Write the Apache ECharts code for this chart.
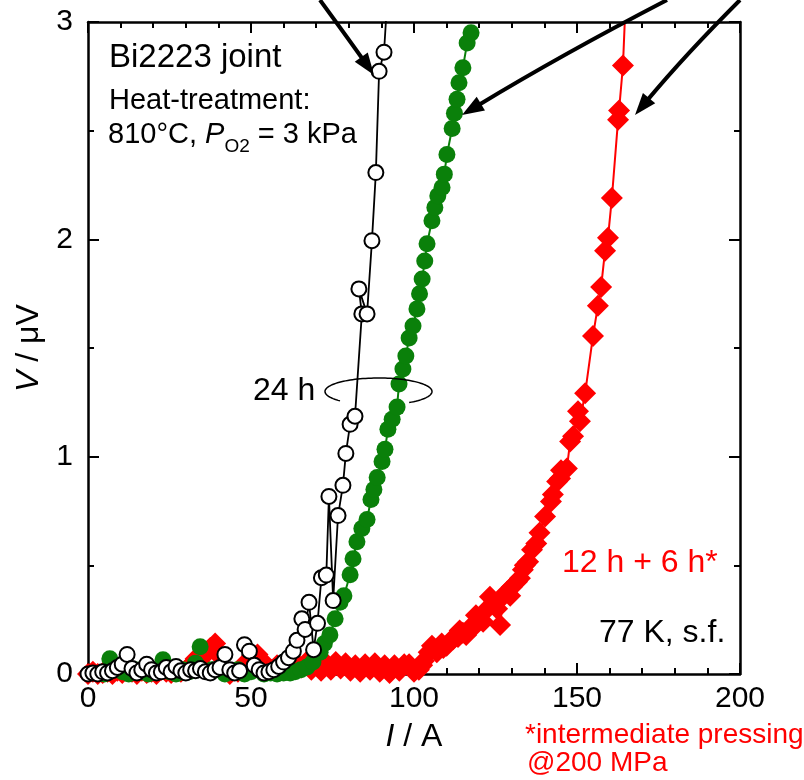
<!DOCTYPE html>
<html>
<head>
<meta charset="utf-8">
<script src="https://cdn.jsdelivr.net/npm/echarts@6/dist/echarts.min.js"></script>
<style>
  html, body { margin: 0; padding: 0; background: #fff; }
  #main { width: 804px; height: 780px; }
</style>
</head>
<body>
<div id="main"></div>
<script>
  // 24 h joint (open circles)
  var blackI = [0, 1.5, 3, 4.5, 6, 7.5, 9, 10.5, 12, 13.5, 15, 16.5, 18, 19.5, 21, 22.5, 24, 25.5, 27, 28.5,
    30, 31.5, 33, 34.5, 36, 37.5, 39, 40.5, 42, 43.5, 45, 46.5, 48, 49.5, 51, 52.5, 54, 55.5, 57, 58.5,
    60, 61.5, 63, 64.1, 65.6, 66.6, 67.8, 69.2, 70.4, 71.6, 73.1, 73.9, 75.2, 76.7, 78.2, 79.1, 80.4, 81.9,
    84.0, 83.1, 85.6, 87.1, 88.3, 89.3, 90.8, 92.2]
  var blackV = [0, 0.005, 0, 0.01, 0.005, 0.015, 0.03, 0.045, 0.09, 0.025, 0.005, 0.02, 0.045, 0.02, 0.005, 0.01, 0.03, 0.01, 0.035, 0.015,
    0.005, 0.02, 0.015, 0.025, 0.01, 0.005, 0.02, 0.03, 0.09, 0.02, 0.005, 0.015, 0.135, 0.105, 0.04, 0.02, 0.005, 0.01, 0.02, 0.035,
    0.055, 0.075, 0.105, 0.155, 0.254, 0.205, 0.33, 0.112, 0.233, 0.443, 0.455, 0.817, 0.338, 0.729, 0.868, 1.015, 1.149, 1.186,
    1.657, 1.772, 1.657, 1.994, 2.307, 2.773, 2.861, 3.2]

  // 24 h joint (filled circles)
  var greenI = [5, 6.7, 8.5, 10.5, 12.5, 14.5, 16.5, 18.5, 20.5, 23, 25, 27, 29, 31, 33, 34.4, 38, 40, 42, 44,
    46, 48, 50, 52, 54, 56, 58, 60, 62, 63.5, 65.3, 67.2, 69, 71.2, 72.5, 74.2, 75.8, 77.3, 78.5, 80.4,
    81.3, 82.5, 84, 85.6, 86.8, 87.7, 88.7, 90.2, 91.1, 92, 93.3, 94.8, 95.4, 96.6, 97.5, 98.5, 99.7, 100.9,
    101.7, 102.5, 103.3, 104, 105.5, 106.4, 107.3, 108.6, 109.3, 110.1, 111.7, 112.4, 113.2, 113.8, 115, 116.3, 117.5]
  var greenV = [0, 0.07, 0.03, 0.01, 0, 0.02, 0.01, 0, 0.02, 0.065, 0.01, 0, 0.02, 0.01, 0.05, 0.125, 0.02, 0.02, 0, 0.01,
    0.02, 0, 0.01, 0.02, 0, 0.005, 0, 0.005, 0.005, 0.01, 0.02, 0.032, 0.055, 0.1, 0.14, 0.18, 0.254, 0.33, 0.36, 0.457,
    0.53, 0.609, 0.669, 0.711, 0.803, 0.849, 0.904, 0.978, 1.034, 1.126, 1.172, 1.228, 1.334, 1.403, 1.463, 1.546, 1.601, 1.68,
    1.75, 1.818, 1.9, 1.98, 2.086, 2.146, 2.2, 2.238, 2.3, 2.39, 2.51, 2.58, 2.644, 2.72, 2.79, 2.903, 2.95]

  // 12 h + 6 h* joint (diamonds)
  var redI = [0, 1.5, 3, 4.5, 6, 7.5, 9, 10.5, 12, 13.5, 15, 16.5, 18, 19.5, 21, 22.5, 24, 25.5, 27, 28.5,
    30, 31.5, 33, 34.5, 36, 37.5, 39, 40.5, 42, 43.5, 44.5, 46, 47.5, 49, 50.5, 52, 53.5, 55, 56.5, 58,
    59.5, 61, 62.5, 64, 65.5, 67, 68.5, 70, 71.5, 73, 74.5, 76, 77.5, 79, 80.5, 82, 83.5, 85, 86.5, 88,
    89.5, 91, 92.5, 94, 95.5, 97, 98.5, 100, 101.5, 102.5, 103, 104.5, 105.5, 106, 107, 108.5, 109, 110, 111, 112, 113.5, 114, 115, 116, 117, 118.5,
    119, 120, 121.2, 122.5, 123.3, 124.5, 125.5, 126.4, 127.5, 128.5, 129.5, 130, 131.6, 132.5, 133.4, 134, 135, 136.2, 137.5, 138.5, 140.2, 142, 142.6,
    143.9, 144.8, 145.1, 146.9, 147.9, 148.8, 150.3, 150.9, 152.5, 154.9, 156.4, 157.4, 158.6, 159.5, 160.7, 162.6, 162.9, 164.1, 165.2]
  var redV = [0, 0.01, 0, 0.005, 0.01, 0, 0.015, 0.005, 0.02, 0.01, 0, 0.015, 0.005, 0.01, 0, 0.02, 0.01, 0.005, 0.015, 0.01,
    0.02, 0.04, 0.07, 0.05, 0.09, 0.12, 0.14, 0.08, 0.02, 0, -0.03, 0.01, 0.04, 0.06, 0.08, 0.09, 0.06, 0.03, 0.02, 0.04,
    0.03, 0.05, 0.02, 0.05, 0.03, 0.055, 0.02, 0.05, 0.015, 0.05, 0.02, 0.055, 0.025, 0.05, 0.015, 0.04, 0.01, 0.045, 0.02, 0.05,
    0.01, 0.04, 0.005, 0.04, 0.015, 0.045, 0.045, 0.01, 0.02, 0.04, 0.06, 0.1, 0.13, 0.12, 0.1, 0.14, 0.12, 0.13, 0.15, 0.16, 0.17, 0.2, 0.19, 0.18, 0.21, 0.22,
    0.27, 0.25, 0.24, 0.3, 0.355, 0.33, 0.3, 0.226, 0.36, 0.378, 0.36, 0.4, 0.425, 0.44, 0.48, 0.5, 0.517, 0.572, 0.6, 0.65, 0.725, 0.794, 0.826,
    0.886, 0.9, 0.937, 0.946, 1.07, 1.094, 1.209, 1.163, 1.292, 1.555, 1.694, 1.781, 1.947, 2.007, 2.19, 2.55, 2.593, 2.8, 3.2]

  var FONT = '"Liberation Sans", Arial, sans-serif'

  function pairs (xs, ys) {
    return xs.map(function (x, i) { return [x, ys[i]] })
  }

  function arrow (x0, y0, cx, cy, x1, y1) {
    var dx = x1 - cx, dy = y1 - cy
    var len = Math.sqrt(dx * dx + dy * dy)
    var ux = dx / len, uy = dy / len
    var hl = 22, hw = 8
    var bx = x1 - ux * hl, by = y1 - uy * hl
    return [
      { type: 'bezierCurve', z: 50,
        shape: { x1: x0, y1: y0, x2: bx + ux * 3, y2: by + uy * 3, cpx1: cx, cpy1: cy },
        style: { stroke: '#000', lineWidth: 4, fill: null } },
      { type: 'polygon', z: 50,
        shape: { points: [[x1, y1], [bx - uy * hw, by + ux * hw], [bx + uy * hw, by - ux * hw]] },
        style: { fill: '#000' } }
    ]
  }

  function ring (cx, cy, rx, ry, a0, a1) {
    var pts = []
    for (var a = a0; a <= a1; a += 3) {
      var t = a * Math.PI / 180
      pts.push([cx + rx * Math.cos(t), cy + ry * Math.sin(t)])
    }
    return { type: 'polyline', z: 40, shape: { points: pts },
      style: { stroke: '#000', lineWidth: 1.5, fill: null } }
  }

  function label (x, y, text, size, color) {
    return { type: 'text', z: 60, x: x, y: y,
      style: { text: text, font: size + 'px ' + FONT, fill: color || '#000', align: 'left', verticalAlign: 'middle' } }
  }

  var axisLine = { show: true, onZero: false, lineStyle: { color: '#000', width: 2.5 } }
  var axisTick = { show: true, inside: true, length: 11, lineStyle: { color: '#000', width: 2 } }
  var xMinor = { show: true, splitNumber: 5, length: 6, lineStyle: { color: '#000', width: 2 } }
  var yMinor = { show: true, splitNumber: 2, length: 6, lineStyle: { color: '#000', width: 2 } }

  var myChart = echarts.init(document.getElementById('main'))

  var option = {
    backgroundColor: '#fff',
    animation: false,
    grid: { left: 88, right: 64, top: 22, bottom: 106, containLabel: false, outerBoundsMode: 'none' },
    xAxis: [
      {
        type: 'value', min: 0, max: 200, interval: 50, position: 'bottom',
        axisLine: axisLine, axisTick: axisTick, minorTick: xMinor,
        splitLine: { show: false },
        axisLabel: { fontSize: 30, color: '#000', fontFamily: FONT, margin: 10 },
        name: '{i|I} / A', nameLocation: 'middle', nameGap: 47,
        nameTextStyle: { fontSize: 32, color: '#000', fontFamily: FONT,
          rich: { i: { fontSize: 32, fontStyle: 'italic', fontFamily: FONT, color: '#000' } } }
      },
      {
        type: 'value', min: 0, max: 200, interval: 50, position: 'top',
        axisLine: axisLine, axisTick: axisTick, minorTick: xMinor,
        splitLine: { show: false }, axisLabel: { show: false }
      }
    ],
    yAxis: [
      {
        type: 'value', min: 0, max: 3, interval: 1, position: 'left',
        axisLine: axisLine, axisTick: axisTick, minorTick: yMinor,
        splitLine: { show: false },
        axisLabel: { fontSize: 30, color: '#000', fontFamily: FONT, margin: 15 },
        name: '{i|V} / μV', nameLocation: 'middle', nameGap: 42, nameRotate: 90,
        nameTextStyle: { fontSize: 32, color: '#000', fontFamily: FONT,
          rich: { i: { fontSize: 32, fontStyle: 'italic', fontFamily: FONT, color: '#000' } } }
      },
      {
        type: 'value', min: 0, max: 3, interval: 1, position: 'right',
        axisLine: axisLine, axisTick: axisTick, minorTick: yMinor,
        splitLine: { show: false }, axisLabel: { show: false }
      }
    ],
    series: [
      {
        name: '12 h + 6 h*', type: 'line', data: pairs(redI, redV),
        symbol: 'diamond', symbolSize: 22, showAllSymbol: true,
        itemStyle: { color: '#ff0000' },
        lineStyle: { color: '#ff0000', width: 2 },
        emphasis: { disabled: true }
      },
      {
        name: '24 h (b)', type: 'line', data: pairs(greenI, greenV),
        symbol: 'circle', symbolSize: 17, showAllSymbol: true,
        itemStyle: { color: '#0a800a' },
        lineStyle: { color: '#0a800a', width: 2 },
        emphasis: { disabled: true }
      },
      {
        name: '24 h (a)', type: 'line', data: pairs(blackI, blackV),
        symbol: 'circle', symbolSize: 15, showAllSymbol: true,
        itemStyle: { color: '#fff', borderColor: '#000', borderWidth: 2 },
        lineStyle: { color: '#000', width: 1.8 },
        emphasis: { disabled: true }
      }
    ],
    graphic: [].concat(
      arrow(320, 0, 347, 37, 374, 75),
      arrow(667, 0, 563, 54, 462, 115),
      arrow(740, 0, 685, 55, 635, 115),
      [
        ring(378.5, 391.5, 53.5, 13.5, 136, 417),
        label(109, 58, 'Bi2223 joint', 33),
        label(109, 101, 'Heat-treatment:', 29),
        {
          type: 'text', z: 60, x: 108, y: 135,
          style: {
            text: '{a|810°C, }{i|P}{s|O2}{a| = 3 kPa}',
            align: 'left', verticalAlign: 'middle', fill: '#000',
            rich: {
              a: { font: '29px ' + FONT, lineHeight: 42 },
              i: { font: 'italic 29px ' + FONT, lineHeight: 42 },
              s: { font: '19px ' + FONT, lineHeight: 42, verticalAlign: 'bottom' }
            }
          }
        },
        label(253, 391, '24 h', 32),
        label(562, 563, '12 h + 6 h*', 32, '#ff0000'),
        label(599, 633, '77 K, s.f.', 32),
        label(525, 735, '*intermediate pressing', 28, '#ff0000'),
        label(527, 763, '@200 MPa', 28, '#ff0000')
      ]
    )
  }

  myChart.setOption(option)
</script>
</body>
</html>
